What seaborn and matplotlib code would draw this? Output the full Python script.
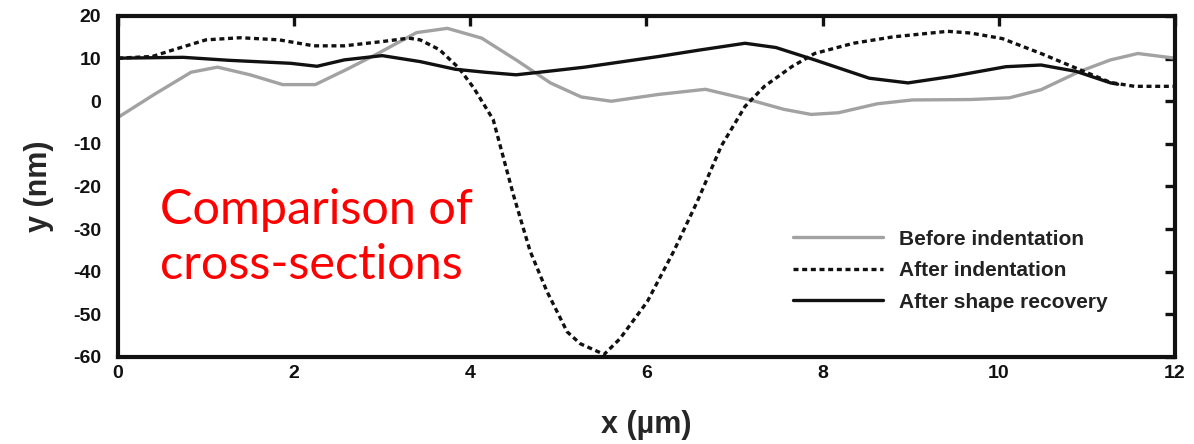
import matplotlib
matplotlib.use("Agg")
import matplotlib.pyplot as plt
import seaborn as sns

# Surface profiles across the indentation site (x in µm, height in nm)
before_x = [0, 0.42, 0.83, 1.13, 1.5, 1.87, 2.24, 2.61, 2.96, 3.39, 3.74, 4.13, 4.52,
            4.91, 5.26, 5.6, 6.14, 6.67, 7.16, 7.56, 7.87, 8.18, 8.62, 9.02, 9.68,
            10.12, 10.48, 10.92, 11.27, 11.58, 12.0]
before_y = [-3.8, 1.7, 6.8, 8.0, 6.2, 3.9, 3.9, 7.6, 11.3, 16.1, 17.1, 14.8, 9.7,
            4.3, 1.0, 0.0, 1.6, 2.8, 0.4, -1.9, -3.1, -2.7, -0.6, 0.3, 0.4,
            0.8, 2.7, 7.0, 9.7, 11.2, 10.1]

indent_x = [0, 0.39, 0.65, 1.0, 1.39, 1.83, 2.22, 2.57, 3.0, 3.3, 3.43, 3.65, 3.87,
            4.04, 4.26, 4.49, 4.68, 4.87, 5.1, 5.25, 5.52, 5.7, 6.01, 6.31, 6.58,
            6.85, 7.12, 7.34, 7.65, 7.91, 8.35, 8.8, 9.42, 9.68, 10.04, 10.48,
            10.92, 11.27, 11.54, 12.0]
indent_y = [10.1, 10.5, 12.2, 14.4, 14.9, 14.4, 13.0, 13.0, 14.0, 14.8, 14.4, 12.1, 7.8,
            3.1, -4.3, -22.0, -35.2, -44.6, -54.1, -56.9, -59.4, -55.7, -47.0, -35.2, -23.4,
            -10.5, -1.2, 3.5, 8.1, 11.2, 13.6, 15.1, 16.4, 16.0, 14.7, 11.2,
            7.4, 4.4, 3.5, 3.5]

recovery_x = [0, 0.74, 1.26, 1.96, 2.26, 2.57, 3.0, 3.43, 3.83, 4.17, 4.52, 4.96, 5.3,
              6.14, 6.6, 7.12, 7.47, 7.91, 8.53, 8.97, 9.46, 10.08, 10.48, 10.88, 11.27, 11.35]
recovery_y = [10.1, 10.3, 9.6, 8.9, 8.2, 9.7, 10.7, 9.3, 7.5, 6.8, 6.2, 7.2, 8.0,
              10.5, 12.0, 13.6, 12.6, 9.7, 5.4, 4.3, 5.8, 8.1, 8.5, 7.0, 4.3, 4.0]

series_labels = ["Before indentation", "After indentation", "After shape recovery"]
x_ticks = [0, 2, 4, 6, 8, 10, 12]
y_ticks = [20, 10, 0, -10, -20, -30, -40, -50, -60]

sns.set_theme(style="white")
plt.rcParams["font.family"] = ["Liberation Sans", "DejaVu Sans"]

fig = plt.figure(figsize=(11.94, 4.44), dpi=100)
ax = fig.add_axes([0.0988, 0.196, 0.8852, 0.768])

sns.lineplot(x=before_x, y=before_y, ax=ax, color="#a2a2a2", lw=2.4,
             label=series_labels[0], sort=False)
sns.lineplot(x=indent_x, y=indent_y, ax=ax, color="#111111", lw=2.4,
             label=series_labels[1], sort=False)
ax.lines[-1].set_dashes((1.5, 1.1))
sns.lineplot(x=recovery_x, y=recovery_y, ax=ax, color="#111111", lw=2.4,
             label=series_labels[2], sort=False)

ax.set_xlim(0, 12)
ax.set_ylim(-60, 20)
ax.set_xticks(x_ticks)
ax.set_yticks(y_ticks)
ax.set_xticklabels([str(v) for v in x_ticks], fontsize=14, fontweight="bold")
ax.set_yticklabels([str(v) for v in y_ticks], fontsize=14, fontweight="bold")
ax.tick_params(axis="y", pad=12)
ax.tick_params(axis="x", pad=6)
ax.tick_params(direction="in", length=7, width=2.4, top=True, right=True,
               labeltop=False, labelright=False, colors="#111111")
for sp in ax.spines.values():
    sp.set_linewidth(3)
    sp.set_color("#111111")
    sp.set_visible(True)

ax.set_xlabel("x (µm)", fontsize=22, fontweight="bold", labelpad=20)
ax.set_ylabel("y (nm)", fontsize=22, fontweight="bold", labelpad=14)

leg = ax.legend(loc="upper left", bbox_to_anchor=(0.629, 0.404), frameon=False,
                handlelength=4.3, handletextpad=0.8, labelspacing=0.6,
                borderpad=0, prop={"weight": "bold", "size": 15})
for t in leg.get_texts():
    t.set_color("#222222")

ax.text(0.04, 0.35, "Comparison of\ncross-sections", transform=ax.transAxes,
        color="#ff0000", fontsize=35, family=["Lato", "DejaVu Sans"],
        ha="left", va="center", linespacing=1.3)

fig.savefig("out.png", dpi=100)
